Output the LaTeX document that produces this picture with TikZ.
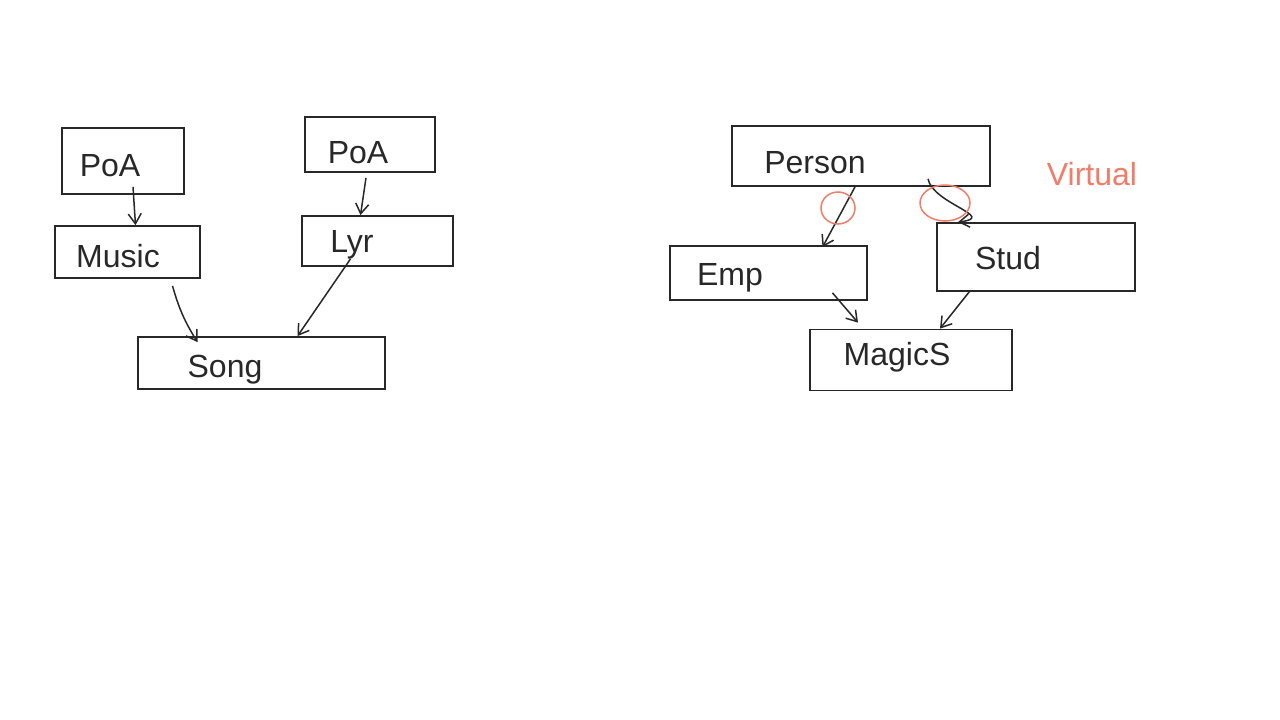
\documentclass[tikz,border=0pt]{standalone}
\usepackage{fontspec}
\setmainfont{Liberation Sans}
\usetikzlibrary{arrows.meta}
\definecolor{ink}{RGB}{40,40,40}
\definecolor{virt}{RGB}{240,125,105}
\begin{document}
\begin{tikzpicture}[x=1pt,y=-1pt,
  box/.style={draw=ink,line width=1.8pt,inner sep=0pt},
  lbl/.style={text=ink,font=\fontsize{32}{36}\selectfont,inner sep=0pt},
  conn/.style={draw=ink,line width=1.5pt,-{Straight Barb[length=10pt,width=13pt,line width=1.5pt]}},
  redmark/.style={draw=virt,line width=1.5pt}]
\useasboundingbox[fill=white] (0,0) rectangle (1280,720);
% boxes
\node[box,minimum width=122pt,minimum height=66pt] (poaL) at (123,161) {};
\node[box,minimum width=130pt,minimum height=55pt] (poaR) at (370,144.5) {};
\node[box,minimum width=145pt,minimum height=52pt] (music) at (127.5,252) {};
\node[box,minimum width=151pt,minimum height=50pt] (lyr) at (377.5,241) {};
\node[box,minimum width=247pt,minimum height=52pt] (song) at (261.5,363) {};
\node[box,minimum width=258pt,minimum height=60pt] (person) at (861,156) {};
\node[box,minimum width=197pt,minimum height=54pt] (emp) at (768.5,273) {};
\node[box,minimum width=198pt,minimum height=68pt] (stud) at (1036,257) {};
\node[box,minimum width=202pt,minimum height=61pt] (magic) at (911,360) {};
% labels
\node[lbl] (poaLt) at (110,166) {PoA};
\node[lbl] (poaRt) at (358,153) {PoA};
\node[lbl] (musict) at (118,256) {Music};
\node[lbl] (lyrt) at (352,245) {Lyr};
\node[lbl] (songt) at (225,370) {Song};
\node[lbl] (persont) at (815,163) {Person};
\node[lbl] (empt) at (730,278) {Emp};
\node[lbl] (studt) at (1008,258) {Stud};
\node[lbl] (magict) at (897,357) {MagicS};
\node[lbl,text=virt] (virtt) at (1092,174) {Virtual};
% connectors
\draw[conn] ([xshift=10pt,yshift=8pt]poaL.south) -- ([xshift=8pt]music.north);
\draw[conn] ([xshift=-4pt,yshift=-5pt]poaR.south) -- ([xshift=-17pt]lyr.north);
\draw[conn] ([xshift=45pt,yshift=-7pt]music.south) to[bend right=8] ([xshift=-64pt,yshift=-6pt]song.north);
\draw[conn] ([xshift=-27pt,yshift=8pt]lyr.south) -- ([xshift=36pt]song.north);
\draw[conn] ([xshift=-6pt]person.south) -- ([xshift=54pt,yshift=-2pt]emp.north);
\draw[conn] ([xshift=67pt,yshift=8pt]person.south) .. controls +(5,25) and +(40,-5) .. ([xshift=-78pt]stud.north);
\draw[conn] ([xshift=64pt,yshift=8pt]emp.south) -- ([xshift=-53pt,yshift=6pt]magic.north);
\draw[conn] ([xshift=-66pt,yshift=1pt]stud.south) -- ([xshift=29pt]magic.north);
% virtual marks
\draw[redmark] (838,208) ellipse [x radius=17pt,y radius=16pt];
\draw[redmark] (945,203) ellipse [x radius=25pt,y radius=18pt];
\end{tikzpicture}
\end{document}
